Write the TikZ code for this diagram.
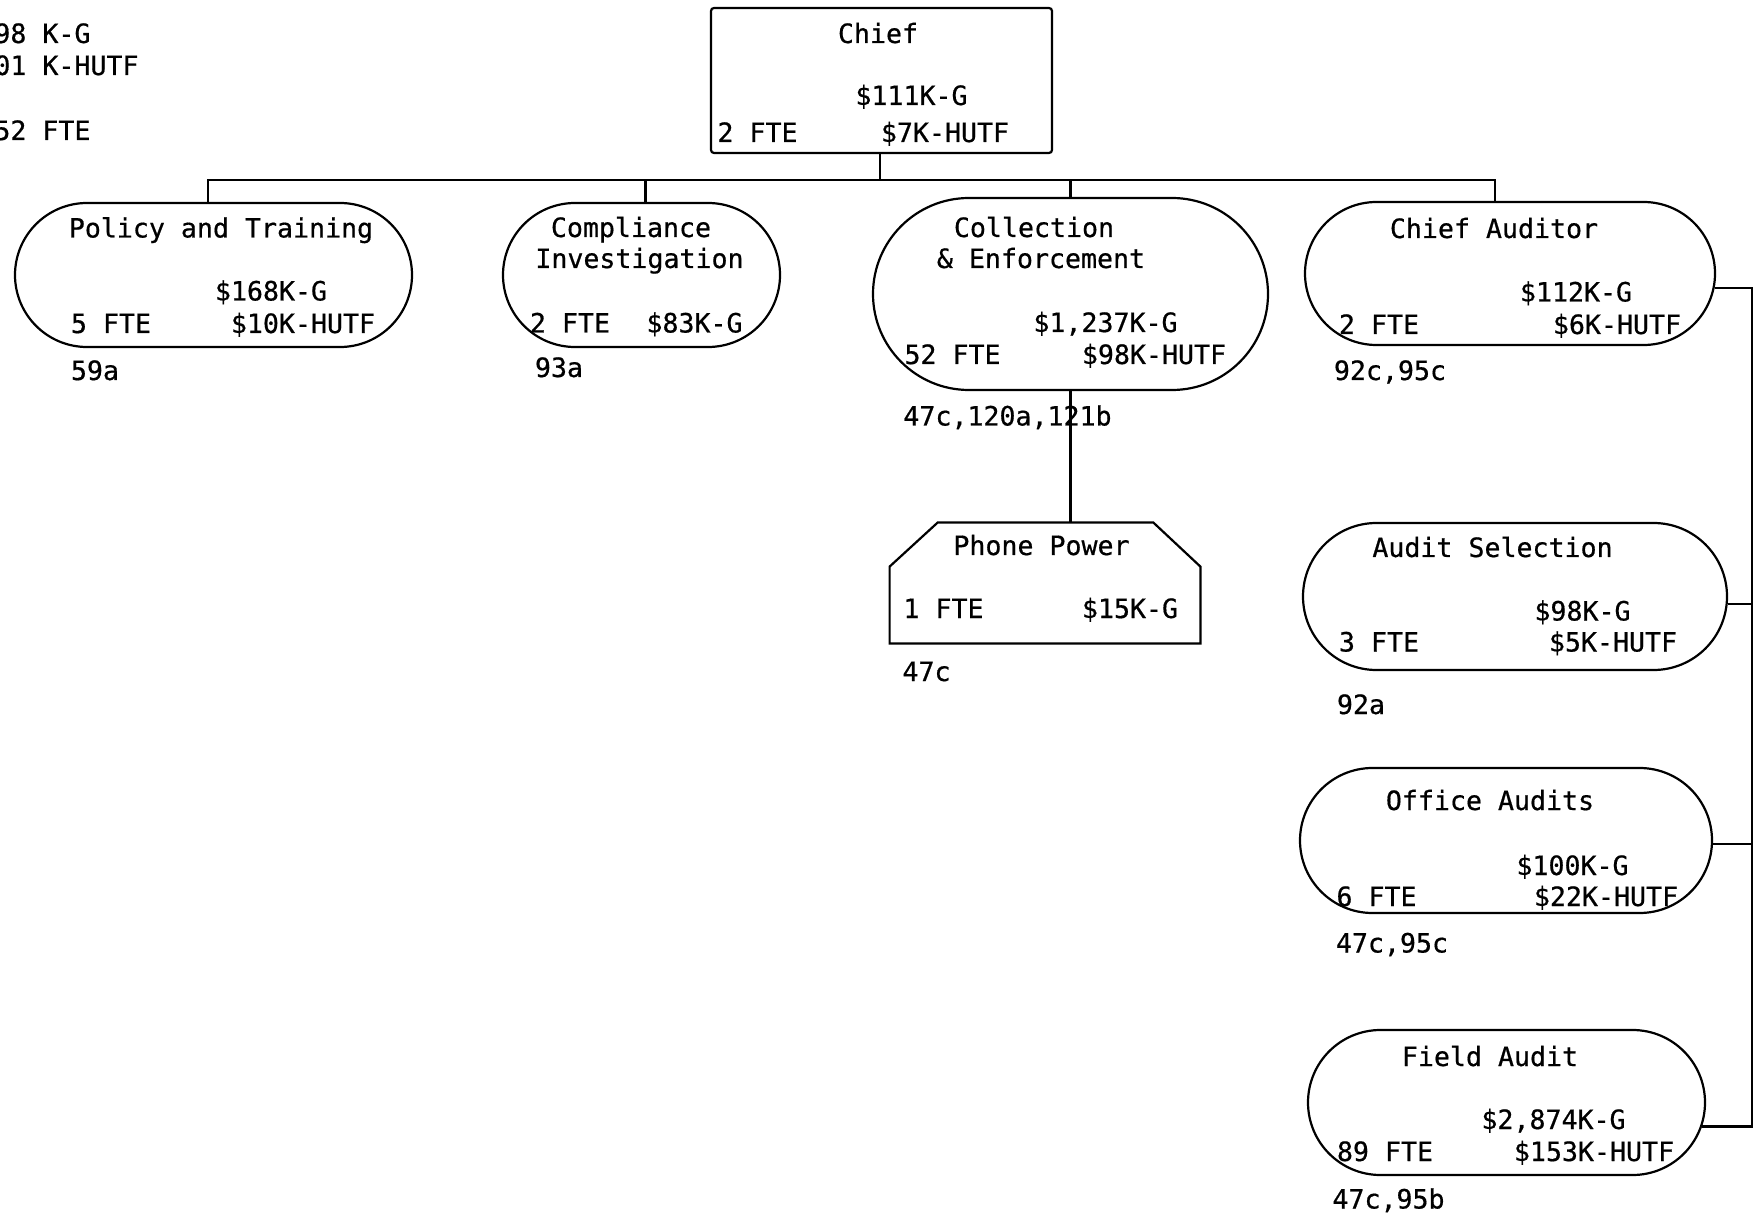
\documentclass[tikz,border=0pt]{standalone}
\usepackage{fontspec}
\newfontfamily\monofam[FakeBold=0.6]{DejaVu Sans Mono}
\usetikzlibrary{shapes.misc}
\begin{document}
\begin{tikzpicture}[x=0.5pt,y=-0.5pt,
  ln/.style={line width=1.1pt, draw=black},
  stad/.style={rounded rectangle, ln, inner sep=0pt},
  plainbox/.style={draw=none, inner sep=0pt},
  tx/.style={anchor=base, inner sep=0pt, font=\monofam\fontsize{13.3pt}{16pt}\selectfont},
  txw/.style={tx, anchor=base west}]
\useasboundingbox (0,0) rectangle (1761,1213);

% top-left totals (clipped at the page edge, as in the original)
\node[txw] (t1) at (-6,43) {98 K-G};
\node[txw] (t2) at (-6,75) {01 K-HUTF};
\node[txw] (t3) at (-6,140) {52 FTE};

% Chief
\node[ln, rectangle, rounded corners=1.5pt, minimum width=170.5pt, minimum height=72.5pt, inner sep=0pt] (chief) at (881.5,80.5) {};
\node[tx] (chiefa) at (878,43) {Chief};
\node[tx] (chiefb) at (911.5,105) {\$111K-G};
\node[tx] (chiefc) at (757.5,142) {2 FTE};
\node[tx] (chiefd) at (945,142) {\$7K-HUTF};

% Policy and Training
\node[stad, minimum width=198.5pt, minimum height=72pt] (pt) at (213.5,275) {};
\node[tx] (pta) at (221,237.5) {Policy and Training};
\node[tx] (ptb) at (271,300.5) {\$168K-G};
\node[tx] (ptc) at (111,333) {5 FTE};
\node[tx] (ptd) at (303,333) {\$10K-HUTF};
\node[tx] (pte) at (95,380) {59a};

% Compliance Investigation
\node[stad, minimum width=138.5pt, minimum height=72pt] (ci) at (641.5,275) {};
\node[tx] (cia) at (631,237) {Compliance};
\node[tx] (cib) at (639.5,268) {Investigation};
\node[tx] (cic) at (570,332.5) {2 FTE};
\node[tx] (cid) at (694.5,332.5) {\$83K-G};
\node[tx] (cie) at (559,377) {93a};

% Collection & Enforcement
\node[stad, minimum width=197.5pt, minimum height=96pt] (ce) at (1070.5,294) {};
\node[tx] (cea) at (1034,237) {Collection};
\node[tx] (ceb) at (1041,268) {\& Enforcement};
\node[tx] (cec) at (1105.5,332) {\$1,237K-G};
\node[tx] (ced) at (952.5,364) {52 FTE};
\node[tx] (cee) at (1154,364) {\$98K-HUTF};
\node[tx] (cef) at (1007.5,425.5) {47c,120a,121b};

% Phone Power
\node[plainbox, minimum width=155pt, minimum height=60pt] (pp) at (1045,583) {};
\draw[ln] ([xshift=24pt]pp.north west) -- ([xshift=-23.5pt]pp.north east)
  -- ([yshift=-22pt]pp.north east) -- (pp.south east) -- (pp.south west)
  -- ([yshift=-22pt]pp.north west) -- cycle;
\node[tx] (ppa) at (1041.5,555) {Phone Power};
\node[tx] (ppb) at (943.5,618) {1 FTE};
\node[tx] (ppc) at (1130,618) {\$15K-G};
\node[tx] (ppd) at (926.5,681) {47c};

% Chief Auditor
\node[stad, minimum width=205pt, minimum height=71.5pt] (ca) at (1510,273.5) {};
\node[tx] (caa) at (1494,238) {Chief Auditor};
\node[tx] (cab) at (1576,301.5) {\$112K-G};
\node[tx] (cac) at (1379,334) {2 FTE};
\node[tx] (cad) at (1617,334) {\$6K-HUTF};
\node[tx] (cae) at (1390,380) {92c,95c};

% Audit Selection
\node[stad, minimum width=212pt, minimum height=73.5pt] (as) at (1515,596.5) {};
\node[tx] (asa) at (1492.5,557) {Audit Selection};
\node[tx] (asb) at (1582.5,620.5) {\$98K-G};
\node[tx] (asc) at (1379,651.5) {3 FTE};
\node[tx] (asd) at (1613,651.5) {\$5K-HUTF};
\node[tx] (ase) at (1361,714) {92a};

% Office Audits
\node[stad, minimum width=206pt, minimum height=72.5pt] (oa) at (1506,840.5) {};
\node[tx] (oaa) at (1490,810) {Office Audits};
\node[tx] (oab) at (1572.5,875) {\$100K-G};
\node[tx] (oac) at (1376.5,906) {6 FTE};
\node[tx] (oad) at (1606,906) {\$22K-HUTF};
\node[tx] (oae) at (1392,952.5) {47c,95c};

% Field Audit
\node[stad, minimum width=198.5pt, minimum height=72.5pt] (fa) at (1506.5,1102.5) {};
\node[tx] (faa) at (1490,1066) {Field Audit};
\node[tx] (fab) at (1553.5,1129) {\$2,874K-G};
\node[tx] (fac) at (1385,1161) {89 FTE};
\node[tx] (fad) at (1594,1161) {\$153K-HUTF};
\node[tx] (fae) at (1388.5,1208.5) {47c,95b};

% connectors
\coordinate (bus) at (880,180);
\coordinate (rail) at (1752,288);
\draw[ln] (bus |- chief.south) -- (bus);
\draw[ln] (bus) -| ([xshift=-2.75pt]pt.north);
\draw[ln] (bus) -| ([xshift=2pt]ci.north);
\draw[ln] (bus) -| (ce.north);
\draw[ln] (bus) -| ([xshift=-7.5pt]ca.north);
\draw[ln] (ce.south) -- (ce.south |- pp.north);
\draw[ln] (ca.-4) -| (rail |- fa.-7) -- (fa.-7);
\draw[ln] (as.-2) -- (as.-2 -| rail);
\draw[ln] (oa.-1) -- (oa.-1 -| rail);
\end{tikzpicture}
\end{document}
